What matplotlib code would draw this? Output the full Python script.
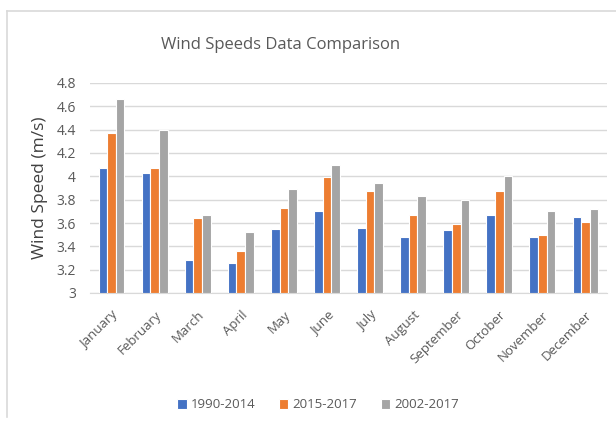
import numpy as np
import matplotlib.pyplot as plt
from matplotlib.lines import Line2D

months = ["January", "February", "March", "April", "May", "June", "July",
          "August", "September", "October", "November", "December"]
s_1990_2014 = [4.07, 4.03, 3.28, 3.26, 3.55, 3.70, 3.56, 3.48, 3.54, 3.67, 3.48, 3.65]
s_2015_2017 = [4.37, 4.07, 3.64, 3.36, 3.73, 3.99, 3.87, 3.67, 3.59, 3.87, 3.50, 3.61]
s_2002_2017 = [4.66, 4.40, 3.67, 3.52, 3.89, 4.10, 3.94, 3.83, 3.80, 4.00, 3.70, 3.72]
series_names = ["1990-2014", "2015-2017", "2002-2017"]
colors = ["#4472C4", "#ED7D31", "#A5A5A5"]
yticks = [3, 3.2, 3.4, 3.6, 3.8, 4, 4.2, 4.4, 4.6, 4.8]

W, H = 616, 426
fig = plt.figure(figsize=(W / 100, H / 100), dpi=100)
plt.rcParams['font.family'] = ['Open Sans', 'DejaVu Sans']

# plot area in pixels
left, right, top, bottom = 90, 607, 83, 293
ax = fig.add_axes([left / W, 1 - bottom / H, (right - left) / W, (bottom - top) / H])

x = np.arange(len(months))
bw = 0.2
for i, (vals, name, c) in enumerate(zip([s_1990_2014, s_2015_2017, s_2002_2017], series_names, colors)):
    ax.bar(x + (i - 1) * bw, np.array(vals) - 3, bw, bottom=3, color=c,
           edgecolor="white", linewidth=0.8, label=name, zorder=3)

ax.set_xlim(-0.5, len(months) - 0.5)
ax.set_ylim(3, 4.8)
ax.set_yticks(yticks)
ax.set_yticklabels([("%g" % v) for v in yticks], fontsize=10, color="#595959")
ax.yaxis.grid(True, color="#d9d9d9", linewidth=1.0, zorder=0)
ax.tick_params(axis="y", length=0, pad=10)
ax.tick_params(axis="x", length=0, pad=11)
ax.set_xticks(x)
ax.set_xticklabels(months, rotation=45, ha="right", rotation_mode="anchor",
                   fontsize=9.5, color="#595959")
for sp in ["top", "right", "left"]:
    ax.spines[sp].set_visible(False)
ax.spines["bottom"].set_color("#d9d9d9")
ax.set_ylabel("Wind Speed (m/s)", fontsize=12.5, color="#404040", labelpad=6)

fig.text(281 / W, 1 - 45 / H, "Wind Speeds Data Comparison", ha="center", va="center",
         fontsize=12, color="#595959")

# chart border lines
fig.add_artist(Line2D([7 / W, 1], [1 - 11 / H, 1 - 11 / H], color="#d9d9d9", linewidth=1.2))
fig.add_artist(Line2D([7 / W, 7 / W], [1 - 11 / H, 0.02], color="#d9d9d9", linewidth=1.2))

fig.legend(loc="center", bbox_to_anchor=(318 / W, 1 - 405 / H), ncol=3, frameon=False,
           fontsize=9.5, handlelength=0.7, handleheight=0.7, handletextpad=0.3,
           columnspacing=1.8, labelcolor="#595959")

fig.savefig("out.png", dpi=100)
